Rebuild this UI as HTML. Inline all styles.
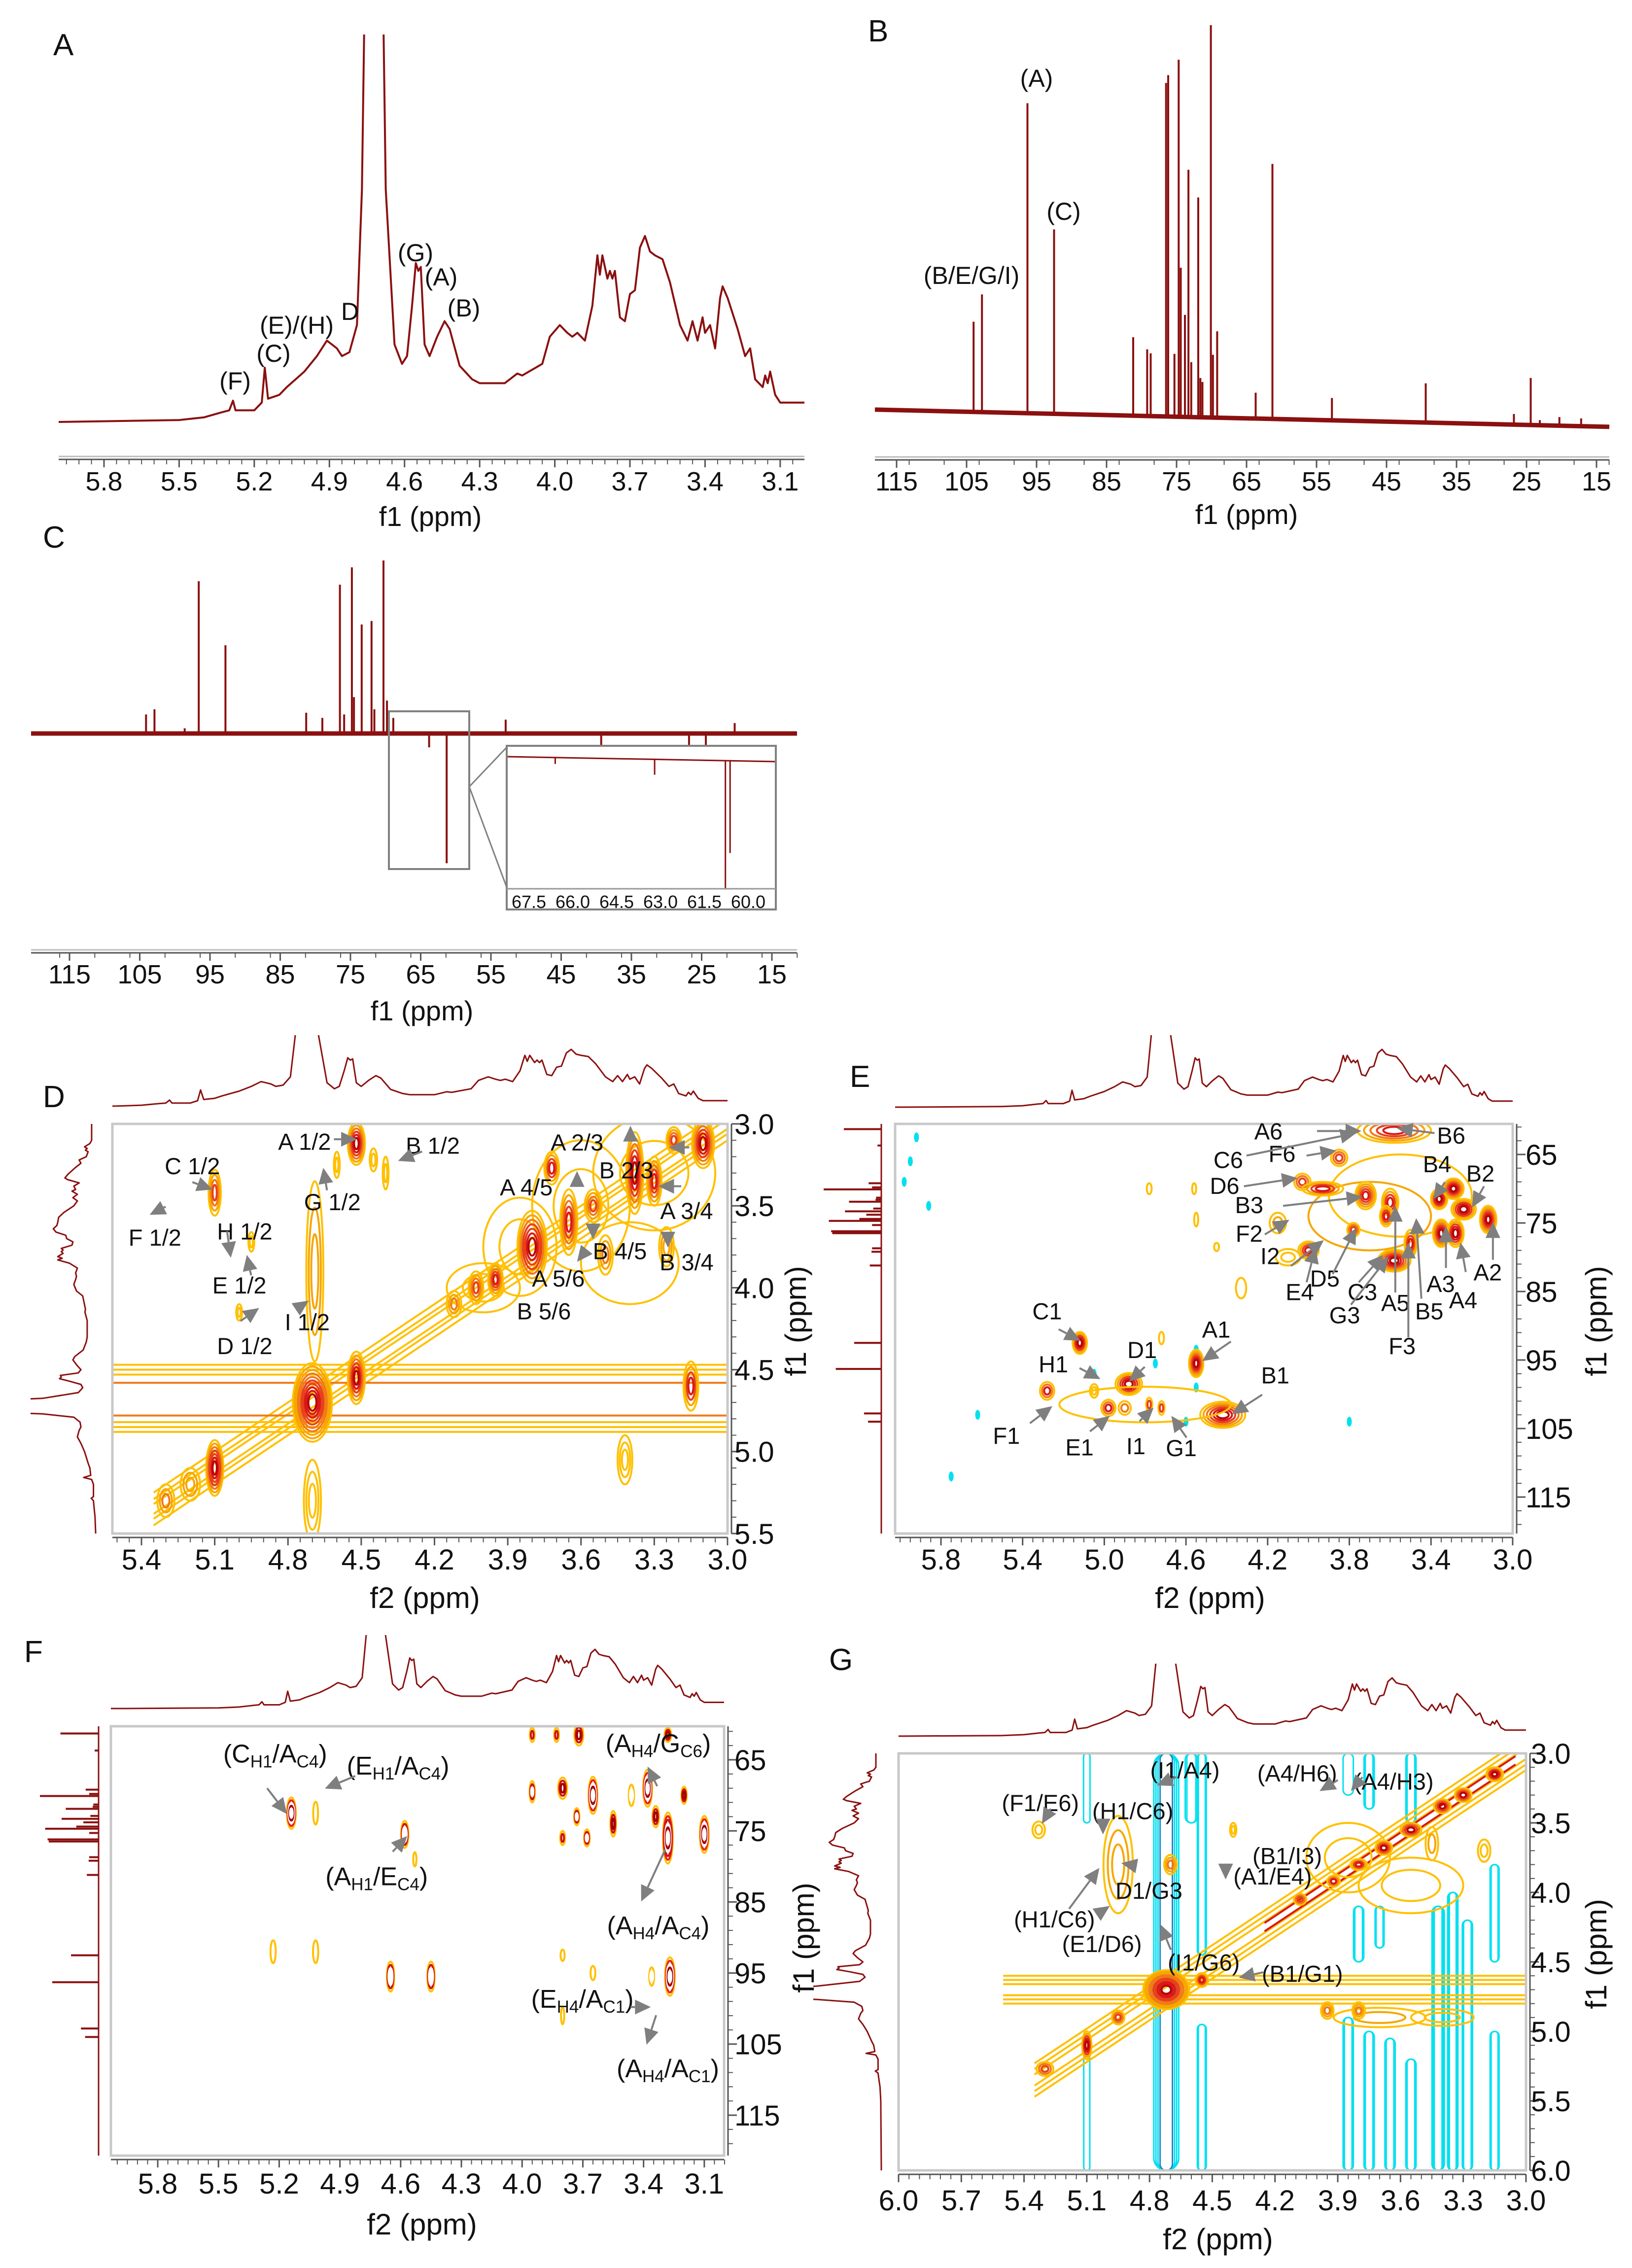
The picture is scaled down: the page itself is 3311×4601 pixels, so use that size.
<!DOCTYPE html>
<html><head><meta charset="utf-8"><title>NMR spectra figure</title>
<style>html,body{margin:0;padding:0;background:#fff}svg{display:block}text{font-family:"Liberation Sans",Arial,sans-serif;fill:#111}</style>
</head><body>
<svg id="fig" xmlns="http://www.w3.org/2000/svg" width="3311" height="4601" viewBox="0 0 3311 4601">
<rect x="0" y="0" width="3311" height="4601" fill="#fff"/>
</svg>
<script>
// ---------- DATA ----------
const h1Ppm=[6.05,5.98,5.5,5.4,5.33,5.3,5.285,5.275,5.2,5.17,5.158,5.145,5.1,5.07,5.0,4.95,4.91,4.89,4.87,4.85,4.82,4.79,4.77,4.755,4.69,4.675,4.64,4.61,4.59,4.57,4.555,4.545,4.535,4.52,4.5,4.47,4.44,4.42,4.38,4.33,4.3,4.2,4.15,4.13,4.05,4.02,3.98,3.95,3.93,3.91,3.88,3.85,3.83,3.82,3.81,3.79,3.78,3.77,3.76,3.74,3.72,3.7,3.68,3.66,3.64,3.62,3.6,3.57,3.54,3.5,3.47,3.45,3.43,3.41,3.4,3.38,3.36,3.34,3.33,3.31,3.27,3.24,3.22,3.2,3.17,3.16,3.15,3.14,3.12,3.1,3.07,3.0];
const h1Int=[0,0,0.005,0.012,0.025,0.03,0.055,0.03,0.03,0.05,0.14,0.06,0.07,0.09,0.13,0.17,0.21,0.2,0.19,0.17,0.18,0.25,0.6,1.3,1.3,0.6,0.2,0.15,0.17,0.3,0.41,0.39,0.4,0.2,0.17,0.22,0.26,0.24,0.145,0.11,0.1,0.1,0.125,0.12,0.15,0.22,0.25,0.23,0.22,0.23,0.21,0.3,0.43,0.38,0.43,0.37,0.39,0.37,0.39,0.27,0.26,0.33,0.34,0.45,0.48,0.44,0.43,0.42,0.36,0.25,0.21,0.26,0.21,0.27,0.23,0.25,0.19,0.32,0.35,0.32,0.24,0.17,0.19,0.11,0.09,0.12,0.1,0.13,0.07,0.05,0.05,0.05];
const c13Ppm=[104.0,102.8,96.3,92.5,81.2,79.2,78.7,76.5,76.2,75.3,74.7,74.4,73.8,73.3,72.9,71.9,71.6,71.3,70.1,69.8,69.2,63.7,61.3,52.8,39.4,26.8,24.4,23.1,20.3,17.2];
const c13Int=[0.23,0.30,0.79,0.47,0.2,0.17,0.16,0.85,0.87,0.16,0.91,0.38,0.26,0.63,0.14,0.56,0.1,0.09,1.0,0.16,0.22,0.066,0.65,0.057,0.1,0.027,0.12,0.013,0.022,0.02];
const deptPpm=[104.1,102.9,98.6,96.6,92.8,81.3,79.0,76.5,75.9,74.8,74.5,73.4,72.0,71.6,70.3,69.8,68.9,63.8,61.3,52.9,39.3,26.8,24.4,20.3];
const deptInt=[0.11,0.14,0.03,0.88,0.51,0.12,0.09,0.86,0.11,0.96,0.21,0.63,0.65,0.14,1.0,0.19,0.09,-0.08,-0.75,0.08,-0.13,-0.07,-0.12,0.06];
const insetPpm=[66.6,63.2,60.78,60.62];
const insetInt=[-0.05,-0.12,-1.0,-0.72];
const ppmTicksA=["5.8","5.5","5.2","4.9","4.6","4.3","4.0","3.7","3.4","3.1"];
const ppmTicksC13=["115","105","95","85","75","65","55","45","35","25","15"];
const insetTicks=["67.5","66.0","64.5","63.0","61.5","60.0"];
const dTicksX=["5.4","5.1","4.8","4.5","4.2","3.9","3.6","3.3","3.0"];
const dTicksY=["3.0","3.5","4.0","4.5","5.0","5.5"];
const eTicksX=["5.8","5.4","5.0","4.6","4.2","3.8","3.4","3.0"];
const eTicksY=["65","75","85","95","105","115"];
const fTicksX=["5.8","5.5","5.2","4.9","4.6","4.3","4.0","3.7","3.4","3.1"];
const gTicksX=["6.0","5.7","5.4","5.1","4.8","4.5","4.2","3.9","3.6","3.3","3.0"];
const gTicksY=["3.0","3.5","4.0","4.5","5.0","5.5","6.0"];
// cross peaks [f2, f1, rx(ppm), ry(ppm), levels, maxColor]
const dPeaks=[[3.3,3.3,0.25,0.35,2,0],[3.6,3.5,0.2,0.4,2,0],[3.85,3.75,0.15,0.3,2,0],[3.4,3.85,0.2,0.25,1,0],[4.0,4.0,0.15,0.15,2,0],[4.69,3.9,0.035,0.55,3,1],[4.7,4.7,0.08,0.24,10,5],[4.52,3.12,0.035,0.13,6,5],[4.52,4.55,0.035,0.16,6,5],[5.1,5.1,0.035,0.17,7,5],[5.1,3.42,0.025,0.14,4,3],[3.8,3.75,0.06,0.22,7,5],[3.65,3.6,0.035,0.2,5,4],[3.72,3.27,0.03,0.1,4,4],[3.55,3.5,0.035,0.1,4,3],[3.38,3.3,0.035,0.25,6,5],[3.3,3.35,0.03,0.15,5,4],[3.22,3.1,0.03,0.08,4,3],[3.1,3.12,0.045,0.15,6,5],[3.95,3.95,0.03,0.1,5,4],[4.03,4.0,0.03,0.1,4,3],[4.12,4.1,0.03,0.08,3,2],[3.15,4.6,0.03,0.15,4,4],[3.42,5.05,0.03,0.15,3,0],[5.3,5.3,0.035,0.1,3,2],[4.7,5.3,0.035,0.25,3,0],[5.0,4.15,0.012,0.05,2,0],[4.95,3.72,0.012,0.06,2,0],[4.45,3.22,0.015,0.07,2,0],[4.4,3.3,0.012,0.1,2,0],[4.6,3.25,0.012,0.08,2,0],[5.2,5.2,0.04,0.1,3,1],[3.25,3.75,0.03,0.12,3,1],[3.5,3.8,0.03,0.12,3,2]];
const dBands=[4.47,4.5,4.53,4.58,4.78,4.82,4.85,4.88];
const dDiag=[-0.1,-0.06,-0.03,0.03,0.06,0.1];
const ePeaks=[[3.55,71,0.35,6,1,0],[3.7,74,0.3,5,1,1],[3.58,61.5,0.18,1.8,5,4],[3.85,65.5,0.04,1.2,3,3],[4.03,69,0.04,1.2,3,3],[3.93,70,0.1,1.0,4,4],[3.72,71,0.05,2,5,4],[3.6,72,0.04,2,4,4],[3.36,71.5,0.04,1.5,5,5],[3.29,70,0.05,1.5,6,5],[3.24,73,0.06,1.5,5,5],[3.12,74.5,0.04,2,6,5],[3.35,76.5,0.04,2,6,5],[3.28,76.5,0.04,2,5,5],[3.58,80.5,0.08,1.6,6,5],[3.5,78,0.03,2,4,4],[3.62,74,0.03,1.5,4,4],[3.78,76,0.03,1,3,3],[4.0,79,0.05,1.3,4,4],[4.1,80,0.06,1.2,2,0],[4.15,75,0.04,1.5,2,1],[5.12,92.5,0.035,1.6,5,5],[5.28,99.5,0.035,1.3,3,4],[5.05,99.5,0.02,1.0,2,0],[4.88,98.5,0.065,1.6,5,5],[4.98,102,0.035,1.2,3,4],[4.9,102,0.03,1.0,2,2],[4.78,101.5,0.015,1.0,2,3],[4.72,102,0.015,1.0,2,3],[4.55,95.5,0.035,2,6,5],[4.42,103,0.11,1.9,6,5],[4.8,101.5,0.42,2.6,1,0],[4.33,84.5,0.025,1.5,1,0],[4.78,70,0.012,0.8,1,0],[4.56,70,0.01,0.8,1,0],[4.55,74.5,0.01,1.0,1,0],[4.45,78.5,0.012,0.6,1,0],[4.72,91.8,0.012,0.9,1,0]];
const eCyan=[[5.92,62.5],[5.98,69],[5.86,72.5],[5.62,103],[5.75,112],[4.55,93.5],[4.75,95.5],[4.6,104],[3.8,104],[3.36,77.5],[5.95,66],[5.05,97],[4.55,99]];
const fPeaks=[[5.14,72.5,0.022,2.2,5,5],[5.02,72.5,0.012,1.6,1,0],[4.58,75.5,0.018,1.9,4,5],[4.65,95.5,0.018,2.1,4,5],[4.45,95.5,0.018,2.1,4,5],[3.27,95.5,0.024,2.7,5,5],[3.36,95.5,0.012,1.3,2,3],[5.23,92,0.013,1.6,1,0],[5.02,92,0.013,1.6,1,0],[3.65,70,0.022,2.6,5,5],[3.38,69,0.022,2.6,5,5],[3.28,76,0.024,3.6,6,5],[3.1,75.5,0.022,2.6,5,5],[3.34,73,0.016,1.5,3,4],[3.2,70,0.013,1.2,3,4],[3.73,73,0.013,1.2,3,3],[3.8,69,0.022,1.5,3,4],[3.95,69.5,0.013,1.5,3,3],[3.72,61.5,0.022,1.5,3,4],[3.83,61.5,0.012,1.0,2,2],[3.95,61.5,0.012,1.0,2,2],[3.28,61.5,0.016,1.0,3,4],[3.8,76,0.012,1.0,2,2],[3.68,76,0.014,1.2,3,3],[3.55,74,0.014,1.8,3,4],[3.46,70,0.013,1.5,2,3],[3.8,92.5,0.01,0.8,1,0],[3.65,95,0.012,1.0,1,0],[4.53,79,0.008,1.0,1,0],[3.8,101,0.008,1.2,1,0]];
const gPeaks=[[3.85,3.75,0.2,0.25,2,0],[3.55,3.95,0.25,0.2,2,0],[4.95,3.8,0.07,0.35,3,1],[3.7,4.9,0.22,0.07,2,1],[3.4,4.9,0.15,0.06,2,0],[4.72,4.7,0.11,0.14,10,5],[5.1,5.1,0.022,0.1,5,5],[3.15,3.15,0.04,0.05,5,5],[3.3,3.3,0.04,0.05,4,5],[3.4,3.38,0.04,0.05,4,5],[3.55,3.55,0.05,0.05,4,5],[3.68,3.68,0.04,0.05,4,5],[3.8,3.8,0.04,0.04,4,4],[3.92,3.92,0.03,0.04,3,4],[4.08,4.05,0.03,0.04,3,3],[5.3,5.27,0.04,0.05,3,3],[4.55,4.63,0.03,0.05,4,4],[4.95,4.9,0.03,0.05,3,3],[3.95,4.85,0.03,0.06,3,2],[3.8,4.85,0.03,0.06,3,2],[4.7,3.8,0.03,0.07,3,2],[5.33,3.55,0.03,0.06,2,0],[4.4,3.55,0.015,0.05,2,0],[3.2,3.7,0.03,0.08,2,0],[3.45,3.65,0.03,0.12,2,1]];
const gCyan=[[4.72,3.0,6.0,0.05,4],[4.55,3.0,4.45,0.012,2],[4.55,4.95,6.0,0.012,2],[5.1,3.0,3.5,0.006,1],[5.1,5.0,6.0,0.005,1],[3.85,4.9,6.0,0.015,2],[3.75,5.0,6.0,0.015,2],[3.65,5.05,6.0,0.015,2],[3.55,5.2,6.0,0.015,2],[3.42,4.1,6.0,0.02,3],[3.35,4.0,6.0,0.015,3],[3.28,4.2,6.0,0.015,2],[3.15,3.8,4.5,0.012,2],[3.15,5.0,6.0,0.012,2],[3.8,4.1,4.5,0.015,2],[3.7,4.1,4.4,0.012,2],[4.6,3.0,3.5,0.02,2],[3.75,3.0,3.4,0.015,2],[3.55,3.0,3.5,0.015,2],[3.85,3.0,3.3,0.015,1]];
const gBands=[4.6,4.63,4.66,4.74,4.77,4.8];
const gDiag=[-0.12,-0.08,-0.04,0.04,0.08,0.12];

// ---------- HELPERS ----------
const NS='http://www.w3.org/2000/svg';
const svg=document.getElementById('fig');
const RED='#8b1010';
const PAL=['#ffc000','#f7a600','#f07a18','#e8401c','#d81818','#b80000'];
let clipN=0;
function add(parent,tag,attrs,name){
  const e=document.createElementNS(NS,tag);
  for(const k in attrs) e.setAttribute(k,attrs[k]);
  
  
  parent.appendChild(e);return e;
}
function group(name){return add(svg,'g',{},name);}
function clip(g,x,y,w,h){
  const id='c'+(clipN++);
  const cp=add(svg,'clipPath',{id:id},'clip-region');
  add(cp,'rect',{x:x,y:y,width:w,height:h},'clip-rect');
  return add(g,'g',{'clip-path':'url(#'+id+')'},'clipped-layer');
}
function text(g,x,y,s,size,anchor,name){
  const t=add(g,'text',{x:x,y:y,'font-size':size,'text-anchor':anchor||'middle'},name);
  t.textContent=s;return t;
}
function subText(g,x,y,parts,size,name){
  const t=add(g,'text',{x:x,y:y,'font-size':size,'text-anchor':'middle'},name);
  parts.forEach(p=>{
    const ts=document.createElementNS(NS,'tspan');
    
    
    if(p[1]){ts.setAttribute('font-size',Math.round(size*0.68));ts.setAttribute('dy','10');}
    else if(p[2]){ts.setAttribute('dy','-10');}
    ts.textContent=p[0];t.appendChild(ts);
  });
  return t;
}
function arrow(g,x1,y1,x2,y2){
  const dx=x2-x1,dy=y2-y1,L=Math.hypot(dx,dy)||1,ux=dx/L,uy=dy/L,hl=32,hw=15;
  const bx=x2-ux*hl,by=y2-uy*hl;
  add(g,'line',{x1:x1,y1:y1,x2:bx,y2:by,stroke:'#7f7f7f','stroke-width':4},'arrow-shaft');
  add(g,'polygon',{points:`${x2},${y2} ${bx-uy*hw},${by+ux*hw} ${bx+uy*hw},${by-ux*hw}`,fill:'#7f7f7f'},'arrow-head');
}
function trace(g,ppms,ints,fx,fy,name,w){
  let d='';
  for(let i=0;i<ppms.length;i++){d+=(i?'L':'M')+fx(ppms[i],ints[i]).toFixed(1)+','+fy(ppms[i],ints[i]).toFixed(1);}
  return add(g,'path',{d:d,fill:'none',stroke:RED,'stroke-width':w||4,'stroke-linejoin':'round'},name);
}
function hAxis(g,x0,x1,y,fx,lo,hi,minor,labels,size,ly,tickLen,dbl){
  if(dbl) add(g,'line',{x1:x0,y1:y-6,x2:x1,y2:y-6,stroke:'#bbb','stroke-width':3},'axis-line-shadow');
  add(g,'line',{x1:x0,y1:y,x2:x1,y2:y,stroke:'#555','stroke-width':3},'x-axis-line');
  for(let v=lo;v<=hi+1e-9;v+=minor){const x=fx(v);if(x<x0-1||x>x1+1)continue;add(g,'line',{x1:x,y1:y,x2:x,y2:y+tickLen,stroke:'#555','stroke-width':2},'x-tick');}
  labels.forEach(s=>{const x=fx(parseFloat(s));add(g,'line',{x1:x,y1:y,x2:x,y2:y+tickLen*1.6,stroke:'#555','stroke-width':3},'x-major-tick');text(g,x,ly,s,size,'middle','x-tick-label');});
}
function vAxis(g,x,y0,y1,fy,lo,hi,minor,labels,size,lx){
  add(g,'line',{x1:x,y1:y0,x2:x,y2:y1,stroke:'#555','stroke-width':3},'y-axis-line');
  for(let v=lo;v<=hi+1e-9;v+=minor){const y=fy(v);if(y<y0-1||y>y1+1)continue;add(g,'line',{x1:x,y1:y,x2:x+10,y2:y,stroke:'#555','stroke-width':2},'y-tick');}
  labels.forEach(s=>{const y=fy(parseFloat(s));add(g,'line',{x1:x,y1:y,x2:x+18,y2:y,stroke:'#555','stroke-width':3},'y-major-tick');text(g,lx,y+size*0.36,s,size,'start','y-tick-label');});
}
function contours(g,peaks,fx,fy,pal,name){
  peaks.forEach(p=>{
    const cx=fx(p[0]),cy=fy(p[1]),rx=Math.abs(fx(p[0]+p[2])-cx),ry=Math.abs(fy(p[1]+p[3])-cy),n=p[4],mc=p[5];
    for(let k=0;k<n;k++){
      const f=1-k/n*0.88;
      const ci=n<=1?mc:Math.round(k/(n-1)*mc);
      add(g,'ellipse',{cx:cx.toFixed(1),cy:cy.toFixed(1),rx:(rx*f).toFixed(1),ry:(ry*f).toFixed(1),fill:'none',stroke:pal[Math.min(ci,pal.length-1)],'stroke-width':4},name);
    }
  });
}
function box(g,x0,y0,x1,y1){add(g,'rect',{x:x0,y:y0,width:x1-x0,height:y1-y0,fill:'none',stroke:'#c8c8c8','stroke-width':5},'plot-frame');}

// ---------- PANEL A ----------
(function(){
  const g=group('panel-a-1h-spectrum');
  const fx=p=>211+(5.8-p)*508.1;
  text(g,108,112,'A',62,'start','panel-label-a');
  const cg=clip(g,119,70,1513,800);
  trace(cg,h1Ppm,h1Int,(p)=>fx(p),(p,h)=>856-h*786,'proton-trace',4);
  hAxis(g,119,1632,932,fx,3.0,5.95,0.05,ppmTicksA,54,995,10,true);
  text(g,873,1067,'f1 (ppm)',56,'middle','x-axis-title-a');
  [['(F)',477,790],['(C)',555,734],['(E)/(H)',602,677],['D',710,649],['(G)',843,530],['(A)',895,579],['(B)',941,642]].forEach(l=>text(g,l[1],l[2],l[0],50,'middle','peak-label'));
})();

// ---------- PANEL B ----------
(function(){
  const g=group('panel-b-13c-spectrum');
  const fx=p=>1819+(115-p)*14.2;
  const base=p=>831+(118-p)/105*35;
  text(g,1761,84,'B',62,'start','panel-label-b');
  add(g,'line',{x1:1775,y1:base(118.1),x2:3265,y2:base(13.2),stroke:RED,'stroke-width':9},'noisy-baseline');
  let d='';
  c13Ppm.forEach((p,i)=>{const x=fx(p),b=base(p);d+=`M${x.toFixed(1)},${b}L${x.toFixed(1)},${(b-c13Int[i]*796).toFixed(1)}`;});
  add(g,'path',{d:d,stroke:RED,'stroke-width':4,fill:'none'},'carbon-peaks');
  hAxis(g,1775,3265,933,fx,13.2,118,5,ppmTicksC13,54,995,10,true);
  text(g,2529,1063,'f1 (ppm)',56,'middle','x-axis-title-b');
  text(g,1971,576,'(B/E/G/I)',50,'middle','peak-label');
  text(g,2103,176,'(A)',50,'middle','peak-label');
  text(g,2158,446,'(C)',50,'middle','peak-label');
})();

// ---------- PANEL C ----------
(function(){
  const g=group('panel-c-dept-spectrum');
  const fx=p=>141+(115-p)*14.25;
  text(g,87,1111,'C',62,'start','panel-label-c');
  add(g,'line',{x1:63,y1:1488,x2:1617,y2:1488,stroke:RED,'stroke-width':9},'noisy-baseline');
  let d='';
  deptPpm.forEach((p,i)=>{const x=fx(p);d+=`M${x.toFixed(1)},1488L${x.toFixed(1)},${(1488-deptInt[i]*351).toFixed(1)}`;});
  add(g,'path',{d:d,stroke:RED,'stroke-width':4,fill:'none'},'dept-peaks');
  add(g,'rect',{x:789,y:1443,width:163,height:320,fill:'none',stroke:'#808080','stroke-width':4},'zoom-region-box');
  add(g,'line',{x1:952,y1:1596,x2:1028,y2:1516,stroke:'#808080','stroke-width':3},'zoom-connector');
  add(g,'line',{x1:952,y1:1596,x2:1028,y2:1800,stroke:'#808080','stroke-width':3},'zoom-connector');
  add(g,'rect',{x:1028,y:1513,width:546,height:332,fill:'#fff',stroke:'#808080','stroke-width':4},'inset-box');
  const ix=p=>1073+(67.5-p)*59.33;
  add(g,'line',{x1:1030,y1:1535,x2:1572,y2:1545,stroke:RED,'stroke-width':3},'inset-baseline');
  let d2='';
  insetPpm.forEach((p,i)=>{const x=ix(p),b=1535+((x-1030)/542)*10;d2+=`M${x.toFixed(1)},${b.toFixed(1)}L${x.toFixed(1)},${(b+(-insetInt[i])*260).toFixed(1)}`;});
  add(g,'path',{d:d2,stroke:RED,'stroke-width':3,fill:'none'},'inset-peaks');
  add(g,'line',{x1:1028,y1:1803,x2:1574,y2:1803,stroke:'#999','stroke-width':3},'inset-axis');
  insetTicks.forEach(s=>text(g,ix(parseFloat(s)),1842,s,36,'middle','inset-tick-label'));
  hAxis(g,63,1617,1933,fx,11.4,120,5,ppmTicksC13,54,1995,10,true);
  text(g,856,2070,'f1 (ppm)',56,'middle','x-axis-title-c');
})();

function topTrace(g,x0,x1,fx,base,scale,clipTop){
  const cg=clip(g,x0,clipTop,x1-x0,base-clipTop+30);
  trace(cg,h1Ppm,h1Int,p=>fx(p),(p,h)=>base-h*scale,'top-projection',3);
}

// ---------- PANEL D ----------
(function(){
  const g=group('panel-d-cosy');
  const X0=228,X1=1476,Y0=2280,Y1=3111;
  const fx=p=>287+(5.4-p)*495.4, fy=p=>2280+(p-3.0)*332.4;
  text(g,87,2246,'D',62,'start','panel-label-d');
  topTrace(g,X0,X1,fx,2245,242,2100);
  const lg=clip(g,62,Y0,140,Y1-Y0);
  trace(lg,h1Ppm,h1Int,(p,h)=>195-h*181,(p)=>fy(p),'left-projection',3);
  const cg=clip(g,X0,Y0,X1-X0,Y1-Y0);
  dDiag.forEach(o=>add(cg,'line',{x1:fx(5.35),y1:fy(5.35+o),x2:fx(3.0),y2:fy(3.0+o),stroke:PAL[0],'stroke-width':4},'diagonal-contour'));
  dBands.forEach((b,i)=>add(cg,'line',{x1:X0,y1:fy(b),x2:X1,y2:fy(b),stroke:(i==3||i==4)?PAL[2]:PAL[0],'stroke-width':4},'t1-noise-band'));
  contours(cg,dPeaks,fx,fy,PAL,'cross-peak-contour');
  box(g,X0,Y0,X1,Y1);
  hAxis(g,X0,X1,Y1+8,fx,3.0,5.5,0.05,dTicksX,58,3184,10,false);
  vAxis(g,X1+8,Y0,Y1,fy,3.0,5.5,0.1,dTicksY,58,1490);
  text(g,862,3262,'f2 (ppm)',60,'middle','x-axis-title-d');
  add(g,'text',{x:0,y:0,'font-size':60,'text-anchor':'middle',transform:'translate(1635,2680) rotate(-90)'},'y-axis-title-d').textContent='f1 (ppm)';
  const Z=(x,y)=>[x*1.084,2050+y*0.829];
  [['A 1/2',570,320],['B 1/2',810,330],['C 1/2',360,380],['G 1/2',622,468],['F 1/2',290,555],['H 1/2',458,540],['E 1/2',448,672],['I 1/2',575,762],['D 1/2',458,820],['A 2/3',1080,322],['B 2/3',1172,390],['A 4/5',985,432],['A 3/4',1285,490],['B 4/5',1160,588],['B 3/4',1285,615],['A 5/6',1045,655],['B 5/6',1018,735]].forEach(l=>{const p=Z(l[1],l[2]);text(g,p[0],p[1]+17,l[0],47,'middle','peak-label');});
  [[625,315,668,315],[790,345,745,368],[360,420,398,438],[612,440,605,385],[310,480,280,500],[425,540,432,605],[470,648,462,598],[555,730,578,710],[450,760,485,728],[1080,430,1080,393],[1180,320,1180,282],[1290,335,1252,335],[1275,430,1232,430],[1110,530,1110,560],[1095,590,1080,615],[1250,550,1250,580]].forEach(a=>{const p=Z(a[0],a[1]),q=Z(a[2],a[3]);arrow(g,p[0],p[1],q[0],q[1]);});
})();

// ---------- PANEL E ----------
(function(){
  const g=group('panel-e-hsqc');
  const X0=1816,X1=3069,Y0=2280,Y1=3111;
  const fx=p=>1909+(5.8-p)*414.25, fy=p=>2342+(p-65)*13.9;
  text(g,1724,2205,'E',62,'start','panel-label-e');
  topTrace(g,X0,X1,fx,2246,244,2100);
  const lg=clip(g,1660,Y0,140,Y1-Y0);
  add(lg,'line',{x1:1788,y1:Y0,x2:1788,y2:Y1,stroke:RED,'stroke-width':3},'left-projection-baseline');
  let d='';c13Ppm.forEach((p,i)=>{const y=fy(p);d+=`M1788,${y.toFixed(1)}L${(1788-c13Int[i]*117).toFixed(1)},${y.toFixed(1)}`;});
  add(lg,'path',{d:d,stroke:RED,'stroke-width':4,fill:'none'},'left-projection-peaks');
  const cg=clip(g,X0,Y0,X1-X0,Y1-Y0);
  eCyan.forEach(c=>add(cg,'ellipse',{cx:fx(c[0]),cy:fy(c[1]),rx:5,ry:10,fill:'#00e0f0'},'negative-peak'));
  contours(cg,ePeaks,fx,fy,PAL,'cross-peak-contour');
  box(g,X0,Y0,X1,Y1);
  hAxis(g,X0,X1,Y1+8,fx,3.0,6.02,0.05,eTicksX,58,3184,10,false);
  vAxis(g,X1+8,Y0,Y1,fy,61,120,2,eTicksY,58,3095);
  text(g,2455,3262,'f2 (ppm)',60,'middle','x-axis-title-e');
  add(g,'text',{x:0,y:0,'font-size':60,'text-anchor':'middle',transform:'translate(3259,2680) rotate(-90)'},'y-axis-title-e').textContent='f1 (ppm)';
  const Z=(x,y)=>[1650+x*1.059,2050+y*0.829];
  [['A6',872,295],['B6',1222,305],['C6',795,365],['F6',898,350],['B4',1195,375],['B2',1278,398],['D6',788,428],['B3',835,475],['F2',835,545],['I2',875,600],['A2',1292,640],['A3',1202,668],['D5',980,655],['C3',1052,688],['E4',932,688],['A4',1245,708],['A5',1115,715],['B5',1180,735],['G3',1018,745],['F3',1128,820],['C1',448,735],['A1',772,780],['D1',630,830],['H1',460,865],['B1',885,892],['F1',370,1040],['E1',510,1068],['I1',618,1065],['G1',705,1070]].forEach(l=>{const p=Z(l[1],l[2]);text(g,p[0],p[1]+17,l[0],47,'middle','peak-label');});
  [[470,780,512,808],[510,875,550,902],[635,872,605,908],[800,810,745,858],[860,940,802,988],[415,1010,458,968],[530,1030,568,992],[625,1005,652,972],[715,1045,686,992],[965,295,1050,295],[830,355,1040,300],[945,355,1002,343],[1190,300,1118,288],[825,430,928,410],[900,478,1052,456],[1210,420,1188,462],[1285,430,1262,482],[865,548,912,512],[915,625,978,562],[945,665,962,580],[995,645,1040,532],[1045,665,1092,598],[1030,720,1102,602],[1115,690,1115,478],[1165,705,1155,508],[1140,800,1140,568],[1212,630,1212,528],[1250,640,1240,568],[1302,610,1302,518]].forEach(a=>{const p=Z(a[0],a[1]),q=Z(a[2],a[3]);arrow(g,p[0],p[1],q[0],q[1]);});
})();

// ---------- PANEL F ----------
(function(){
  const g=group('panel-f-hmbc');
  const X0=225,X1=1469,Y0=3502,Y1=4373;
  const fx=p=>320+(5.8-p)*410.7, fy=p=>3570+(p-65)*14.42;
  text(g,49,3372,'F',62,'start','panel-label-f');
  topTrace(g,X0,X1,fx,3466,250,3317);
  const lg=clip(g,70,Y0,140,Y1-Y0);
  add(lg,'line',{x1:200,y1:Y0,x2:200,y2:Y1,stroke:RED,'stroke-width':3},'left-projection-baseline');
  let d='';c13Ppm.forEach((p,i)=>{const y=fy(p);d+=`M200,${y.toFixed(1)}L${(200-c13Int[i]*119).toFixed(1)},${y.toFixed(1)}`;});
  add(lg,'path',{d:d,stroke:RED,'stroke-width':4,fill:'none'},'left-projection-peaks');
  const cg=clip(g,X0,Y0,X1-X0,Y1-Y0);
  contours(cg,fPeaks,fx,fy,['#ffc000','#e82020','#d01010','#ffffff','#a00000','#ffffff'],'cross-peak-contour');
  box(g,X0,Y0,X1,Y1);
  hAxis(g,X0,X1,Y1+8,fx,3.0,6.02,0.05,fTicksX,58,4450,10,false);
  vAxis(g,X1+8,Y0,Y1,fy,61,120,2,eTicksY,58,1490);
  text(g,856,4533,'f2 (ppm)',60,'middle','x-axis-title-f');
  add(g,'text',{x:0,y:0,'font-size':60,'text-anchor':'middle',transform:'translate(1651,3931) rotate(-90)'},'y-axis-title-f').textContent='f1 (ppm)';
  const Z=(x,y)=>[x*1.084,3300+y*0.8297];
  const L=[[515,315,[['(C',0],['H1',1],['/A',0,1],['C4',1],[')',0,1]]],[745,345,[['(E',0],['H1',1],['/A',0,1],['C4',1],[')',0,1]]],[705,615,[['(A',0],['H1',1],['/E',0,1],['C4',1],[')',0,1]]],[1232,290,[['(A',0],['H4',1],['/G',0,1],['C6',1],[')',0,1]]],[1232,735,[['(A',0],['H4',1],['/A',0,1],['C4',1],[')',0,1]]],[1090,915,[['(E',0],['H4',1],['/A',0,1],['C1',1],[')',0,1]]],[1250,1085,[['(A',0],['H4',1],['/A',0,1],['C1',1],[')',0,1]]]];
  L.forEach(l=>{const p=Z(l[0],l[1]);subText(g,p[0],p[1]+14,l[2],52,'peak-label');});
  [[500,395,537,458],[665,365,608,396],[735,550,762,512],[1230,390,1212,342],[1245,545,1200,672],[1180,930,1218,930],[1228,950,1210,1022]].forEach(a=>{const p=Z(a[0],a[1]),q=Z(a[2],a[3]);arrow(g,p[0],p[1],q[0],q[1]);});
})();

// ---------- PANEL G ----------
(function(){
  const g=group('panel-g-noesy');
  const X0=1823,X1=3096,Y0=3557,Y1=4403;
  const fx=p=>1823+(6-p)*424.3, fy=p=>3557+(p-3)*282;
  text(g,1682,3388,'G',62,'start','panel-label-g');
  topTrace(g,X0,X1,fx,3522,246,3375);
  const lg=clip(g,1650,Y0,150,Y1-Y0);
  trace(lg,h1Ppm,h1Int,(p,h)=>1788-h*220,(p)=>fy(p),'left-projection',3);
  const cg=clip(g,X0,Y0,X1-X0,Y1-Y0);
  gCyan.forEach(c=>{
    for(let k=0;k<c[4];k++){
      const w=Math.abs(fx(c[0]+c[3])-fx(c[0]))*(1-k/c[4]*0.8)+4;
      const y0=fy(c[1]),y1=fy(c[2]);
      add(cg,'rect',{x:fx(c[0])-w,y:y0,width:2*w,height:y1-y0,rx:w,fill:'none',stroke:(k==c[4]-1&&c[4]>3)?'#1e88c8':'#00e0f0','stroke-width':3},'negative-noe-contour');
    }
  });
  gDiag.forEach(o=>add(cg,'line',{x1:fx(5.35),y1:fy(5.35+o),x2:fx(3.0),y2:fy(3.0+o),stroke:PAL[0],'stroke-width':4},'diagonal-contour'));
  [-0.03,0.03].forEach(o=>add(cg,'line',{x1:fx(4.25),y1:fy(4.25+o),x2:fx(3.05),y2:fy(3.05+o),stroke:PAL[4],'stroke-width':4},'diagonal-contour-inner'));
  gBands.forEach(b=>add(cg,'line',{x1:fx(5.5),y1:fy(b),x2:X1,y2:fy(b),stroke:PAL[0],'stroke-width':4},'t1-noise-band'));
  contours(cg,gPeaks,fx,fy,PAL,'cross-peak-contour');
  box(g,X0,Y0,X1,Y1);
  hAxis(g,X0,X1,Y1+8,fx,3.0,6.0,0.05,gTicksX,58,4484,10,false);
  vAxis(g,X1+8,Y0,Y1,fy,3.0,6.0,0.1,gTicksY,58,3106);
  text(g,2471,4563,'f2 (ppm)',60,'middle','x-axis-title-g');
  add(g,'text',{x:0,y:0,'font-size':60,'text-anchor':'middle',transform:'translate(3259,3964) rotate(-90)'},'y-axis-title-g').textContent='f1 (ppm)';
  const Z=(x,y)=>[1650+x*1.059,3300+y*0.8297];
  [['(I1/A4)',712,350],['(A4/H6)',927,358],['(A4/H3)',1112,378],['(F1/E6)',435,430],['(H1/C6)',612,450],['(B1/I3)',908,560],['(A1/E4)',880,610],['D1/G3',643,645],['(H1/C6)',462,715],['(E1/D6)',553,775],['(I1/G6)',748,820],['(B1/G1)',937,848]].forEach(l=>{const p=Z(l[1],l[2]);text(g,p[0],p[1]+17,l[0],47,'middle','peak-label');});
  [[695,368,658,388],[1005,375,970,402],[1052,368,1030,402],[455,445,438,482],[555,470,555,508],[620,585,590,578],[790,585,790,618],[490,690,548,590],[548,700,568,683],[685,790,665,728],[862,845,815,858]].forEach(a=>{const p=Z(a[0],a[1]),q=Z(a[2],a[3]);arrow(g,p[0],p[1],q[0],q[1]);});
})();
</script>
</body></html>
